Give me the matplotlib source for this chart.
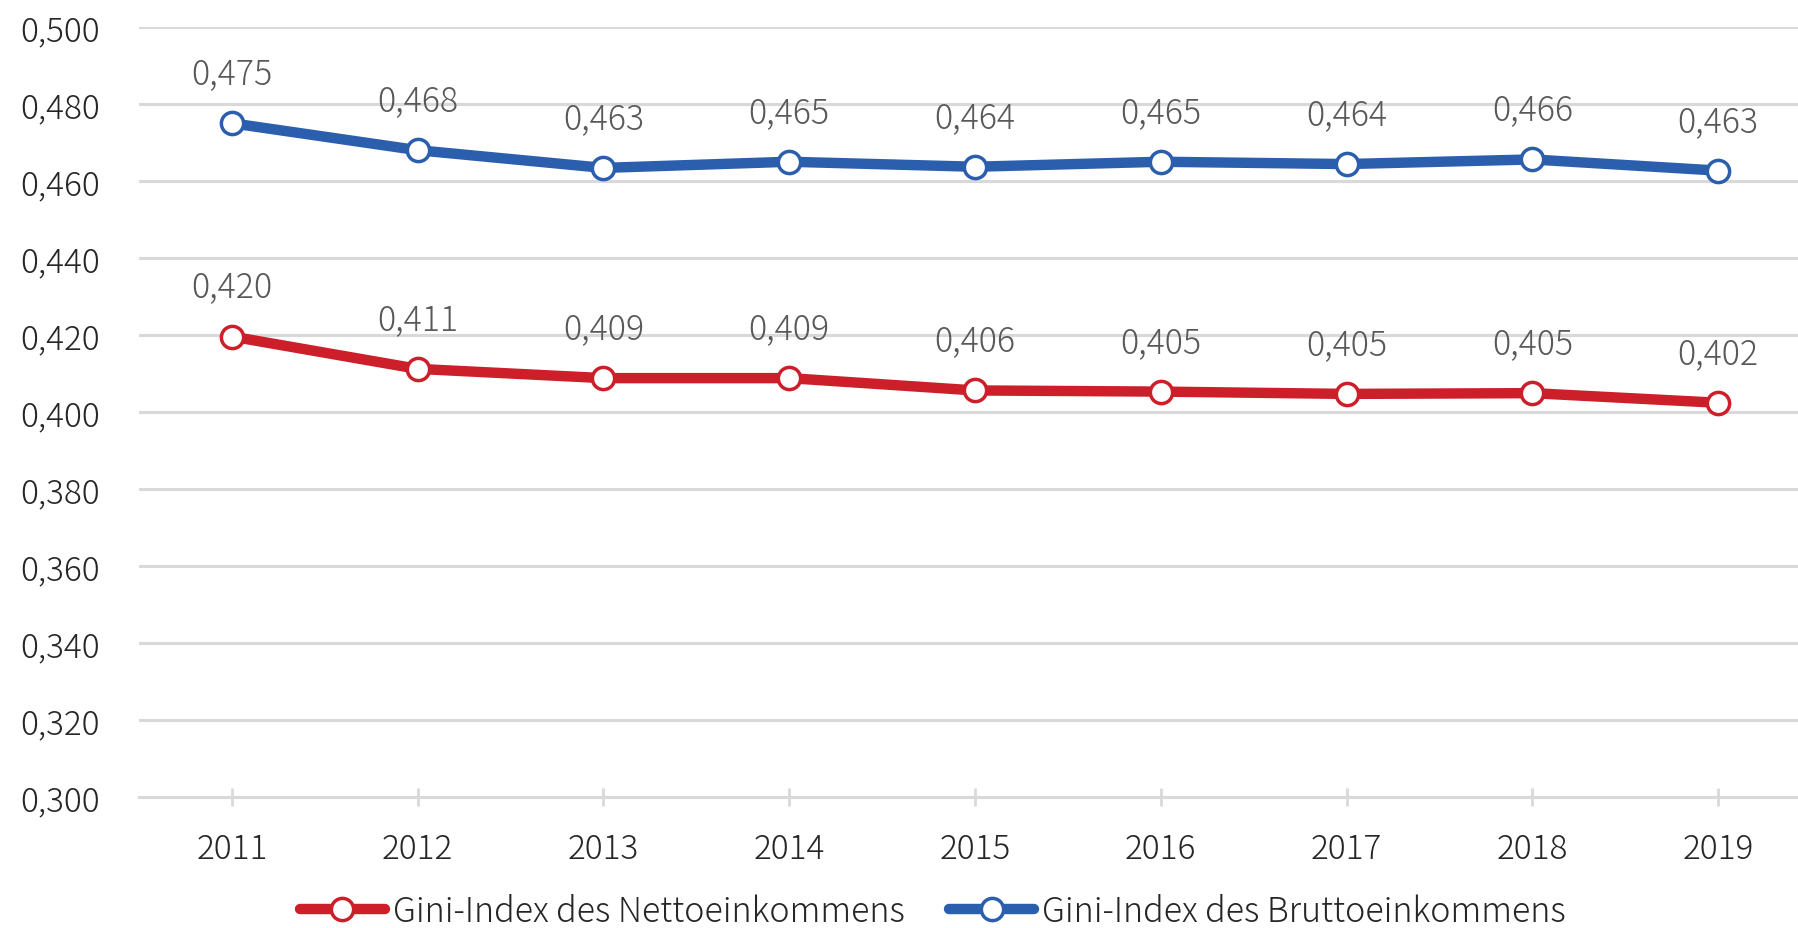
import matplotlib.pyplot as plt
from matplotlib.lines import Line2D

# Daten
years = ['2011', '2012', '2013', '2014', '2015', '2016', '2017', '2018', '2019']
gini_netto = [0.4196, 0.4112, 0.4088, 0.4088, 0.4056, 0.4053, 0.4047, 0.4049, 0.4024]
gini_brutto = [0.4750, 0.4680, 0.4634, 0.4650, 0.4637, 0.4650, 0.4644, 0.4656, 0.4627]
series_names = ['Gini-Index des Nettoeinkommens', 'Gini-Index des Bruttoeinkommens']
y_ticks = [0.30, 0.32, 0.34, 0.36, 0.38, 0.40, 0.42, 0.44, 0.46, 0.48, 0.50]

RED = '#CC1F2A'
BLUE = '#2B5FAD'
GRID = '#D9D9D9'

# Light-Schnitt (Source-Sans-Latin in Noto Sans CJK)
plt.rcParams['font.family'] = ['Noto Sans CJK JP', 'DejaVu Sans']
plt.rcParams['font.weight'] = 300

W, H = 1799, 929
fig = plt.figure(figsize=(W / 100, H / 100), dpi=100)
# Achse: x von 139 bis 1811 px, y von 28 (0,500) bis 798 (0,300)
ax = fig.add_axes([139 / W, 1 - 798 / H, (1811 - 139) / W, (798 - 28) / H])

x = list(range(len(years)))
for vals, col in [(gini_netto, RED), (gini_brutto, BLUE)]:
    ax.plot(x, vals, color=col, lw=7.5, marker='o', markersize=16,
            markerfacecolor='white', markeredgecolor=col, markeredgewidth=2.5,
            solid_capstyle='round', zorder=3, clip_on=False)
    for xi, v in zip(x, vals):
        ax.annotate(f'{v:.3f}'.replace('.', ','), (xi, v), xytext=(0, 36),
                    textcoords='offset points', ha='center', va='center',
                    fontsize=24.5, color='#595959', fontweight=300)

ax.set_xlim(-0.5, len(years) - 0.5)
ax.set_ylim(0.30, 0.50)
ax.set_yticks(y_ticks)
ax.set_yticklabels([f'{t:.3f}'.replace('.', ',') for t in y_ticks])
ax.set_xticks(x)
ax.set_xticklabels(years)

ax.grid(axis='y', color=GRID, lw=2.2, zorder=0)
ax.set_axisbelow(True)
for s in ['top', 'right', 'left']:
    ax.spines[s].set_visible(False)
ax.spines['bottom'].set_color(GRID)
ax.spines['bottom'].set_linewidth(2.2)

ax.tick_params(axis='y', length=0, pad=28, labelsize=24, labelcolor='#262626')
ax.tick_params(axis='x', direction='inout', length=13, width=2, color=GRID,
               pad=18, labelsize=24, labelcolor='#262626')
for lab in ax.get_xticklabels() + ax.get_yticklabels():
    lab.set_fontweight(300)

handles = [Line2D([], [], color=c, lw=7.5, marker='o', markersize=16,
                  markerfacecolor='white', markeredgecolor=c, markeredgewidth=2.5,
                  solid_capstyle='round')
           for c in (RED, BLUE)]
leg = fig.legend(handles, series_names, loc='center', ncol=2,
                 bbox_to_anchor=(933 / W, 1 - 912 / H), frameon=False,
                 prop={'size': 24.5, 'weight': 300}, handlelength=2.5,
                 handletextpad=0.24, columnspacing=1.3, borderpad=0)
for t in leg.get_texts():
    t.set_color('#262626')

fig.savefig('out.png', dpi=100)
